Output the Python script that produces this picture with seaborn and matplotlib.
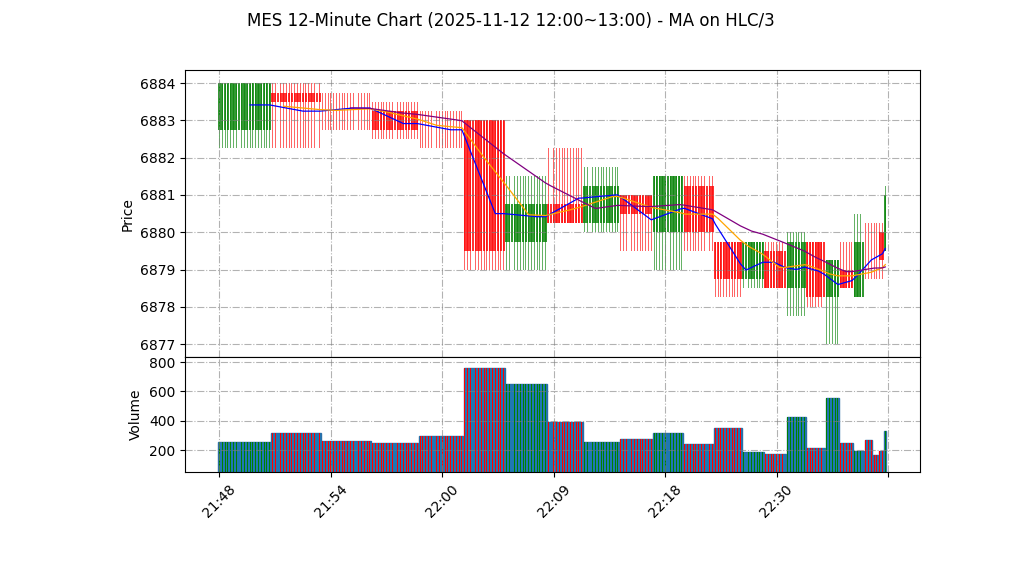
"""
MES 12-minute candles with HLC/3 moving averages
"""
import numpy as np
import pandas as pd
import matplotlib
matplotlib.use("Agg")
import matplotlib.pyplot as plt
import seaborn as sns

#---------------------------------------------
# candle data
opens  = [6882.75, 6883.75, 6883.5, 6883.25, 6882.75, 6883.0, 6879.75, 6880.75,
          6880.25, 6881.0, 6880.0, 6881.25, 6879.75, 6878.75, 6879.5, 6878.5,
          6879.75, 6878.25, 6879.0, 6878.25, 6879.5, 6879.25, 6880.0, 6879.5]
highs  = [6884.0, 6884.0, 6883.75, 6883.5, 6883.25, 6883.0, 6881.5, 6882.25,
          6881.75, 6881.0, 6881.5, 6881.5, 6879.75, 6879.75, 6879.75, 6880.0,
          6879.75, 6879.25, 6879.75, 6880.5, 6880.25, 6880.25, 6880.25, 6881.25]
lows   = [6882.25, 6882.25, 6882.75, 6882.5, 6882.25, 6879.0, 6879.0, 6880.25,
          6880.0, 6879.5, 6879.0, 6879.5, 6878.25, 6878.5, 6878.5, 6877.75,
          6878.0, 6877.0, 6878.5, 6878.25, 6878.75, 6878.75, 6878.75, 6879.5]
closes = [6884.0, 6883.5, 6883.5, 6882.75, 6882.75, 6879.5, 6880.75, 6880.25,
          6881.25, 6880.5, 6881.5, 6880.0, 6878.75, 6879.75, 6878.5, 6879.75,
          6878.25, 6879.25, 6878.5, 6879.75, 6879.5, 6879.25, 6879.25, 6881.0]
volumes = [252, 314, 259, 245, 295, 757, 648, 389, 252, 273, 314, 239,
           350, 184, 171, 425, 212, 554, 246, 191, 266, 166, 193, 327]
# number of rows each candle covers in the underlying frame
rows_per_candle = [19, 18, 18, 17, 16, 15, 15, 13, 13, 12, 11, 11,
                   10, 8, 8, 7, 7, 5, 5, 4, 3, 2, 2, 1]
tick_labels = ['21:48', '21:54', '22:00', '22:09', '22:18', '22:30', '']
ma_windows = [12, 24, 48]
ma_colors = ['blue', 'orange', 'purple']

#---------------------------------------------
# expand candles to rows
df = pd.DataFrame({
    'open': np.repeat(opens, rows_per_candle),
    'high': np.repeat(highs, rows_per_candle),
    'low': np.repeat(lows, rows_per_candle),
    'close': np.repeat(closes, rows_per_candle),
    'volume': np.repeat(volumes, rows_per_candle),
})
df['x'] = np.arange(len(df))
df['hlc3'] = (df['high'] + df['low'] + df['close']) / 3
up = df['close'] > df['open']
df['color'] = np.where(up, 'green', 'red')

starts = np.concatenate([[0], np.cumsum(rows_per_candle)[:-1]])

#---------------------------------------------
fig = plt.figure(figsize=(10.22, 5.75), dpi=100)
ax1 = fig.add_axes([0.181, 0.379, 0.719, 0.499])
ax2 = fig.add_axes([0.181, 0.179, 0.719, 0.2], sharex=ax1)

# wicks and bodies
ax1.bar(df['x'], df['high'] - df['low'], bottom=df['low'], width=0.35,
        color=df['color'], alpha=0.6)
body_lo = np.minimum(df['open'], df['close'])
body_hi = np.maximum(df['open'], df['close'])
ax1.bar(df['x'], body_hi - body_lo, bottom=body_lo, width=0.8,
        color=df['color'], alpha=0.8)

# moving averages on HLC/3
for w, c in zip(ma_windows, ma_colors):
    ma = df['hlc3'].rolling(w).mean()
    sns.lineplot(x=df['x'], y=ma, ax=ax1, color=c, linewidth=0.9)

pad = (max(highs) - min(lows)) * 0.05
ax1.set_ylim(min(lows) - pad, max(highs) + pad)
ax1.set_ylabel('Price')
ax1.set_xlabel('')
ax1.grid(True, linestyle='-.', color='gray', alpha=0.6)
ax1.tick_params(labelbottom=False)

# volume
ax2.bar(starts - 0.4, volumes, width=np.array(rows_per_candle) - 0.2, align='edge',
        color='tab:blue', edgecolor='#2a6fa8', linewidth=1)
ax2.bar(df['x'], df['volume'], width=0.35, color=df['color'])
ax2.set_ylim(50, 834)
ax2.set_ylabel('Volume')
ax2.grid(True, linestyle='-.', color='gray', alpha=0.6)

ax2.set_xticks(np.arange(0, len(df) + 1, 40))
ax2.set_xticklabels(tick_labels, rotation=45)

fig.suptitle('MES 12-Minute Chart (2025-11-12 12:00~13:00) - MA on HLC/3', fontsize=12)
fig.savefig('out.png', dpi=100)
